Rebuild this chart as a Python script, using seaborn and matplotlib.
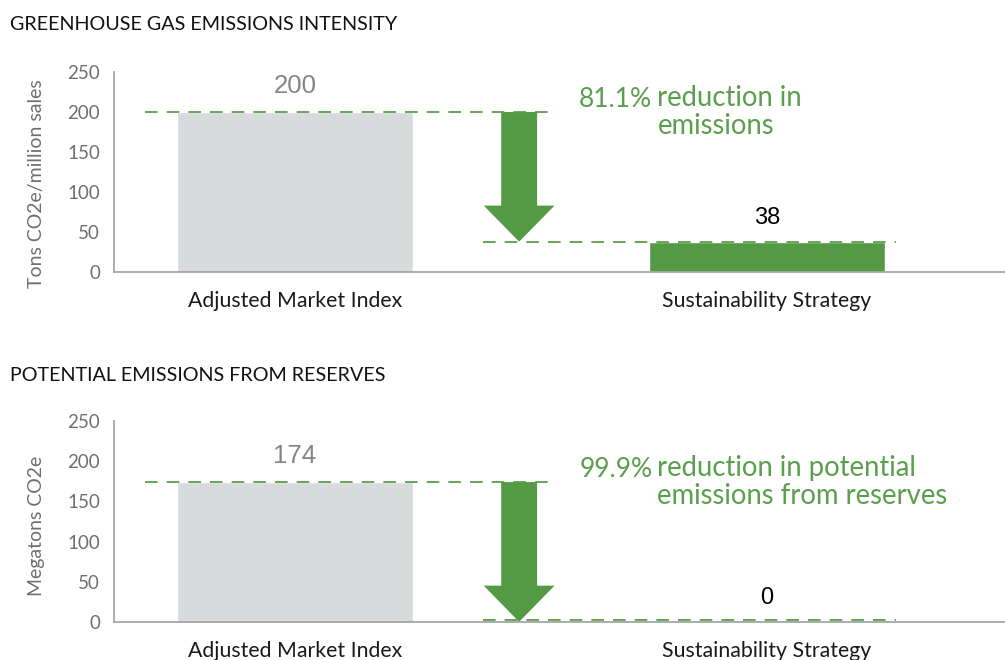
import numpy as np
import pandas as pd
import matplotlib
matplotlib.use('Agg')
import matplotlib.pyplot as plt
import matplotlib.transforms as mtrans
import seaborn as sns

# data
categories = ['Adjusted Market Index', 'Sustainability Strategy']
ghgIntensity = [200, 38]          # Tons CO2e / million sales
reserveEmissions = [174, 0.2]     # Megatons CO2e
ghgLabels = ['200', '38']
reserveLabels = ['174', '0']
ghgPct = '81.1%'
ghgNote = 'reduction in\nemissions'
reservePct = '99.9%'
reserveNote = 'reduction in potential\nemissions from reserves'
yTicks = [0, 50, 100, 150, 200, 250]

sns.set_theme(style='white')
plt.rcParams['font.family'] = ['Lato', 'DejaVu Sans']

GREEN = '#549a45'
TXTGREEN = '#5a9f4c'
BARGREY = '#d9dadb'
AXGREY = '#a6a6a6'
TICKGREY = '#6f6f6f'

fig = plt.figure(figsize=(10.05, 6.6), dpi=100)
W, H = 1005., 660.

def axRect(left, top, right, bottom):
    return [left/W, 1-bottom/H, (right-left)/W, (bottom-top)/H]

ax1 = fig.add_axes(axRect(114, 72, 1005, 272))
ax2 = fig.add_axes(axRect(114, 421, 1005, 622))

def drawPanel(ax, vals, labels, pct, note, ylabel, labY, tipOff):
    df = pd.DataFrame({'cat': categories, 'val': vals})
    sns.barplot(data=df, x='cat', y='val', hue='cat', palette=[BARGREY, GREEN],
                width=0.5, legend=False, ax=ax, saturation=1)
    ax.set_xlim(-0.383, 1.504)
    ax.set_ylim(0, 250)
    ax.set_yticks(yTicks)
    ax.set_xlabel('')
    ax.set_ylabel(ylabel, fontsize=14, color=TICKGREY)
    ax.yaxis.set_label_coords(-0.078, labY)
    for s in ['top', 'right']:
        ax.spines[s].set_visible(False)
    for s in ['left', 'bottom']:
        ax.spines[s].set_color(AXGREY)
        ax.spines[s].set_linewidth(1.3)
    ax.tick_params(axis='y', length=0, pad=10, labelsize=13.5, labelcolor=TICKGREY)
    ax.tick_params(axis='x', length=0, pad=14, labelsize=15.3, labelcolor='#1a1a1a')

    # value labels
    ax.annotate(labels[0], (0, vals[0]), xytext=(0, 10), textcoords='offset points',
                ha='center', va='bottom', fontsize=18.5, color='#858585',
                family='Liberation Sans')
    ax.annotate(labels[1], (1, vals[1]), xytext=(0, 9), textcoords='offset points',
                ha='center', va='bottom', fontsize=17, color='black',
                family='Liberation Sans')

    # dashed guides
    ax.plot([-0.318, 0.549], [vals[0], vals[0]], ls=(0, (7, 5)), color=TXTGREEN, lw=1.3)
    tr = ax.transData
    if tipOff:
        tr = mtrans.offset_copy(ax.transData, fig=fig, x=0, y=tipOff, units='dots')
    ax.plot([0.398, 1.273], [vals[1], vals[1]], ls=(0, (7, 5)), color=TXTGREEN,
            lw=1.3, transform=tr)

    # arrow
    ax.arrow(0.475, vals[0], 0, vals[1]-vals[0], width=0.076, head_width=0.15,
             head_length=45, length_includes_head=True, color=GREEN, lw=0)

    # annotation
    ty = vals[0] + 16
    ax.text(0.757, ty, pct, ha='right', va='center', fontsize=19, color=TXTGREEN)
    ax.text(0.768, ty, note, ha='left', va='top', fontsize=19.8, color=TXTGREEN,
            linespacing=1.08, transform=mtrans.offset_copy(ax.transData, fig=fig,
                                                           x=0, y=14, units='dots'))

drawPanel(ax1, ghgIntensity, ghgLabels, ghgPct, ghgNote,
          'Tons CO2e/million sales', 0.44, 0)
drawPanel(ax2, reserveEmissions, reserveLabels, reservePct, reserveNote,
          'Megatons CO2e', 0.48, 2)

fig.text(10/W, 1-25/H, 'GREENHOUSE GAS EMISSIONS INTENSITY', ha='left', va='center',
         fontsize=14.2, color='#111111')
fig.text(10/W, 1-375/H, 'POTENTIAL EMISSIONS FROM RESERVES', ha='left', va='center',
         fontsize=14.2, color='#111111')

fig.savefig('out.png', dpi=100)
